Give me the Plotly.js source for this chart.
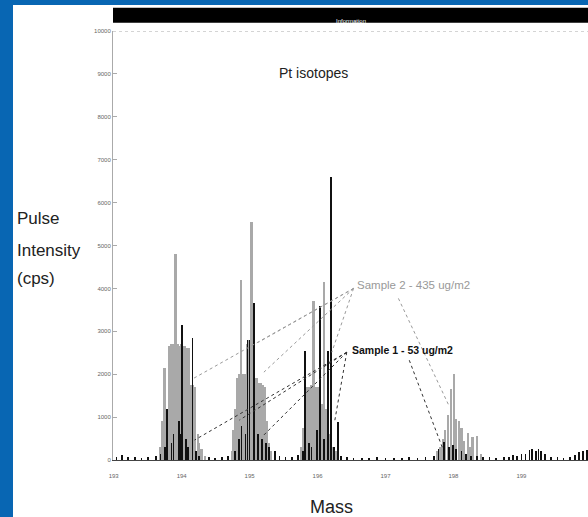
<!DOCTYPE html>
<html>
<head>
<meta charset="utf-8">
<script src="https://cdn.plot.ly/plotly-3.0.1.min.js"></script>
<style>
  body { margin: 0; }
  #frame { position: relative; width: 588px; height: 517px; background: #0866b3; overflow: hidden; }
  #plot { position: absolute; left: 13px; top: 5px; width: 575px; height: 512px; background: #fff; }
</style>
</head>
<body>
<div id="frame"><div id="plot"></div></div>
<script>
// Sample 2 (grey) - 435 ug/m2
var s2Mass = [193.68, 193.71, 193.75, 193.78, 193.81, 193.84, 193.87, 193.91, 193.94, 193.97, 194.00, 194.04, 194.07, 194.10, 194.13, 194.16, 194.19, 194.24, 194.26, 194.29, 194.34,
              194.74, 194.76, 194.79, 194.82, 194.85, 194.87, 194.90, 194.93, 194.96, 194.99, 195.03, 195.06, 195.10, 195.13, 195.16, 195.19, 195.22, 195.25, 195.28, 195.32,
              195.76, 195.79, 195.82, 195.85, 195.88, 195.91, 195.94, 195.97, 196.00, 196.03, 196.06, 196.09, 196.12, 196.16, 196.22, 196.28,
              197.76, 197.81, 197.85, 197.88, 197.92, 197.96, 198.01, 198.04, 198.08, 198.12, 198.16, 198.21, 198.25, 198.28, 198.35, 198.41];
var s2Counts = [300, 900, 2150, 1200, 2650, 2700, 2700, 4800, 2700, 2650, 2700, 2650, 2600, 2600, 1750, 1750, 1700, 600, 400, 250, 100,
                200, 700, 1200, 1900, 2000, 4200, 2000, 2000, 2700, 2800, 5550, 2800, 1900, 1800, 1800, 1750, 1700, 900, 400, 200,
                300, 750, 1200, 1700, 1700, 1750, 3700, 1700, 1700, 1650, 1300, 4150, 1200, 600, 300, 200,
                200, 300, 500, 700, 1050, 1650, 2000, 950, 900, 750, 450, 620, 300, 540, 560, 150];

// Sample 1 (black) - 53 ug/m2, with the low background counts
var s1Mass = [193.04, 193.12, 193.21, 193.31, 193.41, 193.51, 193.62,
              193.69, 193.76, 193.79, 193.85, 193.88, 193.96, 193.99, 194.01, 194.06, 194.09, 194.16, 194.21, 194.26,
              194.40, 194.49, 194.59, 194.68,
              194.78, 194.84, 194.88, 194.94, 194.97, 195.00, 195.07, 195.12, 195.18, 195.24, 195.29, 195.37,
              195.44, 195.53, 195.62, 195.71,
              195.79, 195.82, 195.87, 195.91, 195.99, 196.04, 196.10, 196.15, 196.20, 196.24, 196.30, 196.35,
              196.43, 196.53, 196.65, 196.76, 196.88, 197.00, 197.12, 197.24, 197.35, 197.47, 197.59,
              197.71, 197.78, 197.86, 197.93, 197.99, 198.04, 198.12, 198.19, 198.26, 198.35, 198.44,
              198.53, 198.63, 198.74, 198.82, 198.88, 198.94, 199.00, 199.06, 199.12, 199.16, 199.21, 199.25, 199.29, 199.35,
              199.44, 199.53, 199.62, 199.71, 199.79, 199.85, 199.91, 199.97];
var s1Counts = [80, 120, 60, 80, 50, 70, 100,
                150, 300, 1200, 400, 600, 900, 600, 3150, 500, 300, 2850, 200, 100,
                60, 50, 80, 100,
                200, 500, 800, 600, 2800, 2800, 3650, 600, 500, 400, 300, 200,
                100, 60, 80, 120,
                200, 2550, 400, 300, 700, 3600, 500, 2550, 6600, 300, 880, 100,
                60, 40, 50, 40, 60, 40, 50, 40, 60, 50, 80,
                100, 250, 420, 300, 350, 250, 200, 150, 100, 100, 80,
                60, 50, 80, 70, 120, 90, 150, 130, 230, 250, 200, 260, 220, 150,
                80, 60, 50, 70, 120, 180, 200, 230];

var massTicks = [193, 194, 195, 196, 197, 198, 199];
var countTicks = [0, 1000, 2000, 3000, 4000, 5000, 6000, 7000, 8000, 9000, 10000];

var sample2 = {
  x: s2Mass, y: s2Counts, type: "bar", name: "Sample 2 - 435 ug/m2",
  width: 0.034,
  marker: { color: "#a9a9a9", line: { width: 0 } }
};
var sample1 = {
  x: s1Mass, y: s1Counts, type: "bar", name: "Sample 1 - 53 ug/m2",
  width: 0.026,
  marker: { color: "#111111", line: { width: 0 } }
};

// leader lines from the labels to the peaks (mass, counts)
var greyLeads = [
  [196.53, 4000, 194.18, 1907],
  [196.53, 4000, 195.13, 2744],
  [196.53, 4000, 195.21, 2047],
  [196.53, 4000, 196.21, 2512],
  [197.19, 3767, 197.93, 1279]
];
var blackLeads = [
  [196.43, 2512, 194.19, 465],
  [196.43, 2512, 194.85, 930],
  [196.43, 2512, 195.18, 535],
  [196.43, 2512, 196.25, 884],
  [197.35, 2326, 197.85, 233]
];

var shapes = [];
greyLeads.forEach(function (l) {
  shapes.push({ type: "line", xref: "x", yref: "y", x0: l[0], y0: l[1], x1: l[2], y1: l[3],
                line: { color: "#9a9a9a", width: 1, dash: "dot" } });
});
blackLeads.forEach(function (l) {
  shapes.push({ type: "line", xref: "x", yref: "y", x0: l[0], y0: l[1], x1: l[2], y1: l[3],
                line: { color: "#333333", width: 1, dash: "dot" } });
});
// black header band and dotted top line
shapes.push({ type: "rect", xref: "paper", yref: "paper", x0: 0, x1: 1, y0: 1.019, y1: 1.054,
              fillcolor: "#000", line: { width: 0 } });
shapes.push({ type: "line", xref: "paper", yref: "y", x0: 0, x1: 1, y0: 10000, y1: 10000,
              line: { color: "#aaaaaa", width: 1, dash: "dot" } });

var titleFont = { family: "Liberation Sans, Arial, sans-serif", size: 17, color: "#222" };

var layout = {
  width: 575, height: 512,
  margin: { l: 100, r: 0, t: 26, b: 57 },
  paper_bgcolor: "#ffffff", plot_bgcolor: "#ffffff",
  font: { family: "Liberation Sans, Arial, sans-serif", color: "#222" },
  showlegend: false,
  barmode: "overlay",
  bargap: 0,
  xaxis: {
    range: [192.99, 199.98], tickvals: massTicks, ticktext: massTicks.map(String),
    showgrid: false, zeroline: false, showline: true, linecolor: "#444", linewidth: 1,
    ticks: "", ticklabelstandoff: 10, tickfont: { size: 6, color: "#666" }
  },
  yaxis: {
    range: [0, 10000], tickvals: countTicks, ticktext: countTicks.map(String),
    showgrid: false, zeroline: false, showline: true, linecolor: "#aaa", linewidth: 1,
    ticks: "inside", ticklen: 4, tickcolor: "#aaa", tickfont: { size: 6, color: "#666" }
  },
  shapes: shapes,
  annotations: [
    { text: "Information", xref: "paper", yref: "paper", x: 0.5, y: 1.036, showarrow: false,
      font: { size: 6, color: "#ffffff" } },
    { text: "Pt isotopes", xref: "x", yref: "y", x: 195.94, y: 9020, showarrow: false,
      font: { size: 14, color: "#222" } },
    { text: "Sample 2 - 435 ug/m2", xref: "x", yref: "y", x: 197.41, y: 4090, showarrow: false,
      font: { size: 11.5, color: "#999" } },
    { text: "<b>Sample 1 - 53 ug/m2</b>", xref: "x", yref: "y", x: 197.25, y: 2560, showarrow: false,
      font: { size: 10.5, color: "#111" } },
    { text: "Pulse", xref: "paper", yref: "paper", x: -0.206, y: 0.562,
      xanchor: "left", yanchor: "middle", showarrow: false, font: titleFont },
    { text: "Intensity", xref: "paper", yref: "paper", x: -0.206, y: 0.489,
      xanchor: "left", yanchor: "middle", showarrow: false, font: titleFont },
    { text: "(cps)", xref: "paper", yref: "paper", x: -0.206, y: 0.422,
      xanchor: "left", yanchor: "middle", showarrow: false, font: titleFont },
    { text: "Mass", xref: "paper", yref: "paper", x: 0.461, y: -0.109, yanchor: "middle", showarrow: false,
      font: { family: "Liberation Sans, Arial, sans-serif", size: 18, color: "#222" } }
  ]
};

Plotly.newPlot("plot", [sample2, sample1], layout, { displayModeBar: false, staticPlot: true });
</script>
</body>
</html>
